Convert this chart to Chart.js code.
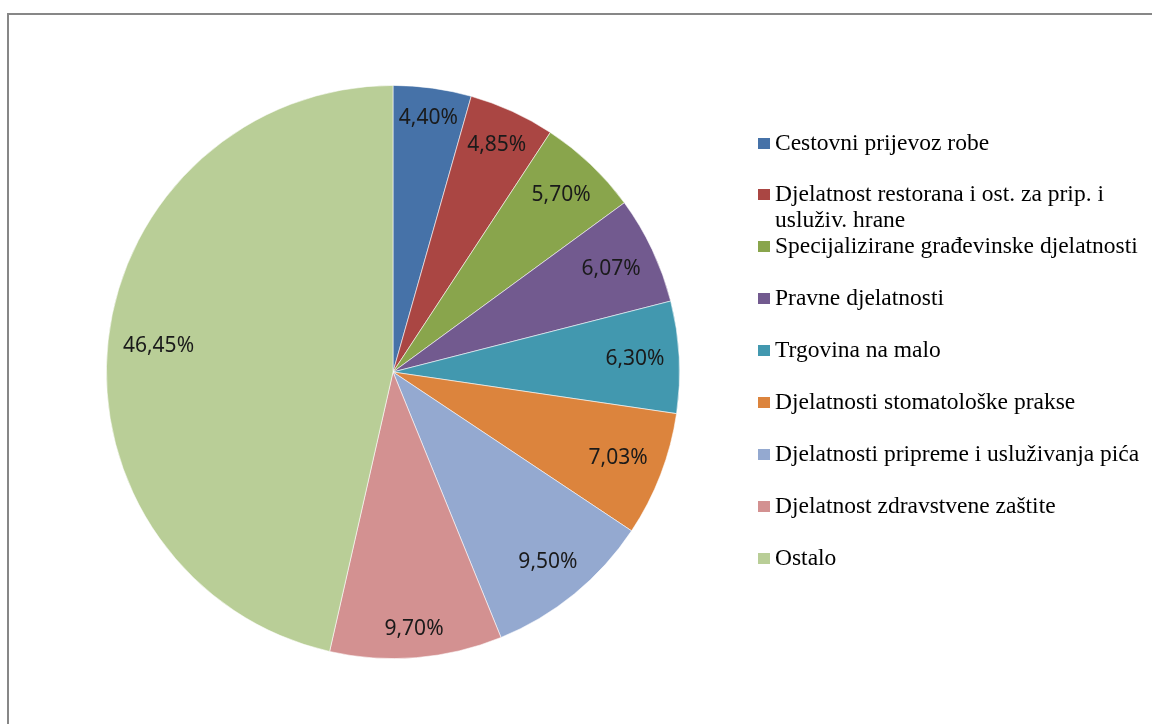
<!DOCTYPE html>
<html>
<head>
<meta charset="utf-8">
<script src="https://cdn.jsdelivr.net/npm/chart.js@4.4.1/dist/chart.umd.min.js"></script>
<style>
    html, body { margin: 0; padding: 0; background: #fff; }
    #wrap { position: relative; width: 1152px; height: 724px; overflow: hidden; }
    #frame { position: absolute; left: 7px; top: 13px; width: 1200px; height: 800px;
             border: 2px solid #878787; box-sizing: border-box; }
    #pie { position: absolute; left: 0; top: 0; }
    #legend { position: absolute; left: 0; top: 0; font-family: "Liberation Serif", "Times New Roman", serif;
              font-size: 23.5px; color: #000; }
    .item { position: absolute; left: 758px; white-space: nowrap; line-height: 26px; }
    .box { position: absolute; left: 0; top: 9px; width: 12px; height: 11px; }
    .txt { position: absolute; left: 17px; top: 0; }
</style>
</head>
<body>
<div id="wrap">
    <div id="frame"></div>
    <canvas id="pie" width="1152" height="724"></canvas>
    <div id="legend"></div>
</div>
<script>
(function() {
    'use strict';

    // categories (legend order = slice order, clockwise from 12 o'clock)
    const categories = [
        ['Cestovni prijevoz robe'],
        ['Djelatnost restorana i ost. za prip. i', 'usluživ. hrane'],
        ['Specijalizirane građevinske djelatnosti'],
        ['Pravne djelatnosti'],
        ['Trgovina na malo'],
        ['Djelatnosti stomatološke prakse'],
        ['Djelatnosti pripreme i usluživanja pića'],
        ['Djelatnost zdravstvene zaštite'],
        ['Ostalo']
    ];

    // shares in percent
    const shares = [4.40, 4.85, 5.70, 6.07, 6.30, 7.03, 9.50, 9.70, 46.45];

    const sliceColors = [
        '#4672A8', '#AA4643', '#89A54C', '#725A8F', '#4298AF',
        '#DC843D', '#94A9D0', '#D39191', '#B9CE97'
    ];

    // value labels placed "inside end": pushed out along the bisector
    // until the text box touches a circle slightly inside the rim
    const sliceLabels = {
        id: 'sliceLabels',
        afterDatasetsDraw(chart) {
            const ctx = chart.ctx;
            const meta = chart.getDatasetMeta(0);
            const pad = 14;
            ctx.save();
            ctx.font = '21px "Noto Sans", "Open Sans", sans-serif';
            ctx.fillStyle = '#1a1a1a';
            ctx.textAlign = 'center';
            ctx.textBaseline = 'middle';
            meta.data.forEach((arc, i) => {
                const p = arc.getProps(['x', 'y', 'startAngle', 'endAngle', 'outerRadius'], true);
                const mid = (p.startAngle + p.endAngle) / 2;
                const txt = shares[i].toFixed(2).replace('.', ',') + '%';
                const hw = ctx.measureText(txt).width / 2;
                const hh = 11;
                const dx = Math.cos(mid), dy = Math.sin(mid);
                const limit = p.outerRadius - pad;
                let lo = 0, hi = p.outerRadius;
                for (let k = 0; k < 30; k++) {
                    const r = (lo + hi) / 2;
                    const cx = dx * r, cy = dy * r;
                    const fx = Math.abs(cx) + hw, fy = Math.abs(cy) + hh;
                    if (Math.sqrt(fx * fx + fy * fy) > limit) hi = r; else lo = r;
                }
                ctx.fillText(txt, p.x + dx * lo, p.y + dy * lo);
            });
            ctx.restore();
        }
    };

    new Chart(document.getElementById('pie'), {
        type: 'pie',
        data: {
            labels: categories.map(c => c.join(' ')),
            datasets: [{
                data: shares,
                backgroundColor: sliceColors,
                borderColor: 'rgba(255,255,255,0.7)',
                borderWidth: 0.8
            }]
        },
        options: {
            responsive: false,
            animation: false,
            layout: { padding: { left: 106, right: 472, top: 85, bottom: 65 } },
            plugins: {
                legend: { display: false },
                tooltip: { enabled: false }
            }
        },
        plugins: [sliceLabels]
    });

    // legend built from the same arrays
    const legend = document.getElementById('legend');
    const baselines = [150, 201, 253, 305, 357, 409, 461, 513, 565];
    categories.forEach((lines, i) => {
        const item = document.createElement('div');
        item.className = 'item';
        item.style.top = (baselines[i] - 21) + 'px';
        const box = document.createElement('div');
        box.className = 'box';
        box.style.background = sliceColors[i];
        const txt = document.createElement('div');
        txt.className = 'txt';
        txt.innerHTML = lines.join('<br>');
        item.appendChild(box);
        item.appendChild(txt);
        legend.appendChild(item);
    });
})();
</script>
</body>
</html>
